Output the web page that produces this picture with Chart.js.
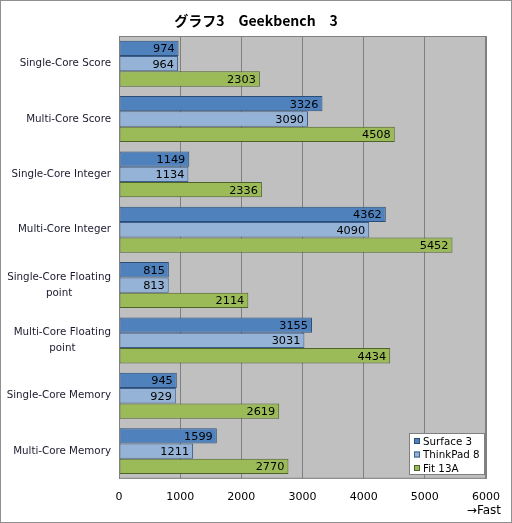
<!DOCTYPE html>
<html>
<head>
<meta charset="utf-8">
<script src="https://cdn.jsdelivr.net/npm/chart.js@4"></script>
<style>
  body { margin: 0; background: #fff; }
  #wrap { width: 512px; height: 523px; }
</style>
</head>
<body>
<div id="wrap"><canvas id="chart" width="512" height="523"></canvas></div>
<script>
// data
const categories = [
  ['Single-Core Score'],
  ['Multi-Core Score'],
  ['Single-Core Integer'],
  ['Multi-Core Integer'],
  ['Single-Core Floating', 'point'],
  ['Multi-Core Floating', 'point'],
  ['Single-Core Memory'],
  ['Multi-Core Memory']
];
const seriesNames = ['Surface 3', 'ThinkPad 8', 'Fit 13A'];
const surface3 = [974, 3326, 1149, 4362, 815, 3155, 945, 1599];
const thinkpad8 = [964, 3090, 1134, 4090, 813, 3031, 929, 1211];
const fit13a = [2303, 4508, 2336, 5452, 2114, 4434, 2619, 2770];
const xTicks = [0, 1000, 2000, 3000, 4000, 5000, 6000];

const fillColors = ['#4f81bd', '#95b3d7', '#9bbb59'];
const edgeColors = ['#2c4d75', '#3b5e8c', '#4f6228'];
const textFont = '"DejaVu Sans", Verdana, sans-serif';

// draws labels, legend box, title and the border by hand
const extras = {
  id: 'extras',
  beforeDraw(chart) {
    const { ctx, chartArea: a } = chart;
    ctx.save();
    ctx.fillStyle = '#c0c0c0';
    ctx.fillRect(a.left, a.top, a.right - a.left, a.bottom - a.top);
    ctx.restore();
  },
  afterDatasetsDraw(chart) {
    const { ctx } = chart;
    ctx.save();
    ctx.font = '11.3px ' + textFont;
    ctx.fillStyle = '#000';
    ctx.textAlign = 'right';
    ctx.textBaseline = 'middle';
    chart.data.datasets.forEach((ds, i) => {
      chart.getDatasetMeta(i).data.forEach((bar, j) => {
        ctx.fillText(String(ds.data[j]), bar.x - 4, bar.y + 1);
      });
    });
    ctx.restore();
  },
  afterDraw(chart) {
    const { ctx, chartArea: a, scales } = chart;
    ctx.save();
    // plot frame
    ctx.strokeStyle = '#808080';
    ctx.lineWidth = 1;
    ctx.strokeRect(a.left + 0.5, a.top + 0.5, a.right - a.left - 1, a.bottom - a.top - 1);

    // title
    ctx.fillStyle = '#000';
    ctx.textAlign = 'center';
    ctx.textBaseline = 'middle';
    ctx.font = 'bold 14px "Noto Sans CJK JP", sans-serif';
    ctx.fillText('グラフ3\u3000Geekbench\u30003', 256, 21);

    // category labels
    ctx.font = '10.3px ' + textFont;
    ctx.fillStyle = '#1a1a2e';
    categories.forEach((lines, i) => {
      const y = scales.y.getPixelForTick(i);
      const widths = lines.map(t => ctx.measureText(t).width);
      const w = Math.max(...widths);
      const cx = a.left - 8 - w / 2;
      const lh = 16;
      lines.forEach((t, k) => {
        ctx.fillText(t, cx, y + (k - (lines.length - 1) / 2) * lh);
      });
    });

    // legend box
    const lx = 409, ly = 433, lw = 75, lh = 41;
    ctx.fillStyle = '#fff';
    ctx.fillRect(lx, ly, lw, lh);
    ctx.strokeStyle = '#808080';
    ctx.strokeRect(lx + 0.5, ly + 0.5, lw, lh);
    ctx.textAlign = 'left';
    ctx.font = '10.3px ' + textFont;
    chart.data.datasets.forEach((ds, i) => {
      const yy = ly + 8 + i * 13.5;
      ctx.fillStyle = ds.backgroundColor;
      ctx.fillRect(lx + 5, yy - 3, 6, 6);
      ctx.strokeStyle = ds.borderColor;
      ctx.strokeRect(lx + 5.5, yy - 2.5, 5, 5);
      ctx.fillStyle = '#000';
      ctx.fillText(ds.label, lx + 14, yy + 1);
    });

    // axis note
    ctx.textAlign = 'right';
    ctx.fillStyle = '#000';
    ctx.font = '12px ' + textFont;
    ctx.fillText('\u2192Fast', 501, 511);

    // outer border
    ctx.strokeStyle = '#909090';
    ctx.strokeRect(0.5, 0.5, chart.width - 1, chart.height - 1);
    ctx.restore();
  }
};

const series = [surface3, thinkpad8, fit13a];
new Chart(document.getElementById('chart').getContext('2d'), {
  type: 'bar',
  data: {
    labels: categories.map(c => c.join(' ')),
    datasets: series.map((values, i) => ({
      label: seriesNames[i],
      data: values,
      backgroundColor: fillColors[i],
      borderColor: edgeColors[i],
      borderWidth: 1,
      borderSkipped: false,
      barPercentage: 1.0,
      categoryPercentage: 0.83
    }))
  },
  options: {
    indexAxis: 'y',
    responsive: false,
    animation: false,
    devicePixelRatio: 1,
    layout: { padding: { left: 0, right: 25, top: 36, bottom: 7 } },
    scales: {
      x: {
        min: 0,
        max: 6000,
        afterBuildTicks: s => { s.ticks = xTicks.map(v => ({ value: v })); },
        grid: { color: '#808080', drawTicks: false },
        border: { display: false },
        ticks: {
          padding: 12,
          color: '#000',
          callback: v => String(v),
          font: { family: textFont, size: 11 }
        }
      },
      y: {
        afterFit: s => { s.width = 119; },
        grid: { display: false, drawTicks: false },
        border: { display: false },
        ticks: { display: false }
      }
    },
    plugins: {
      legend: { display: false },
      tooltip: { enabled: false },
      title: { display: false }
    }
  },
  plugins: [extras]
});
</script>
</body>
</html>
